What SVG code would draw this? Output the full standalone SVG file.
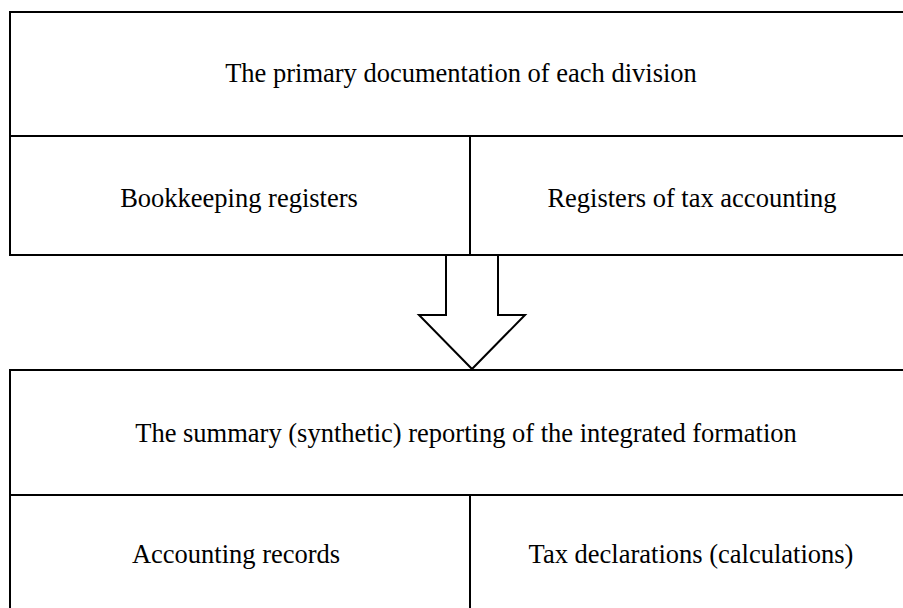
<svg xmlns="http://www.w3.org/2000/svg" width="903" height="608" viewBox="0 0 903 608">
<style>
.b{fill:none;stroke:#000;stroke-width:2}
.t{font-family:"Liberation Serif","Times New Roman",serif;font-size:26.5px;fill:#000;text-anchor:middle}
</style>
<rect width="903" height="608" fill="#fff"/>
<g id="top">
<rect class="b" x="10" y="12" width="900" height="243"/>
<line class="b" x1="10" y1="136" x2="903" y2="136"/>
<line class="b" x1="470" y1="136" x2="470" y2="255"/>
<text class="t" x="461" y="82">The primary documentation of each division</text>
<text class="t" x="239" y="207">Bookkeeping registers</text>
<text class="t" x="692" y="207">Registers of tax accounting</text>
</g>
<g id="connectors">
<polygon class="b" points="446,255 498,255 498,315 525,315 472,369 419,315 446,315" fill="#fff"/>
</g>
<g id="bottom">
<rect class="b" x="10" y="370" width="900" height="250"/>
<line class="b" x1="10" y1="495" x2="903" y2="495"/>
<line class="b" x1="470" y1="495" x2="470" y2="608"/>
<text class="t" x="466" y="442">The summary (synthetic) reporting of the integrated formation</text>
<text class="t" x="236" y="563">Accounting records</text>
<text class="t" x="691" y="563">Tax declarations (calculations)</text>
</g>
</svg>
